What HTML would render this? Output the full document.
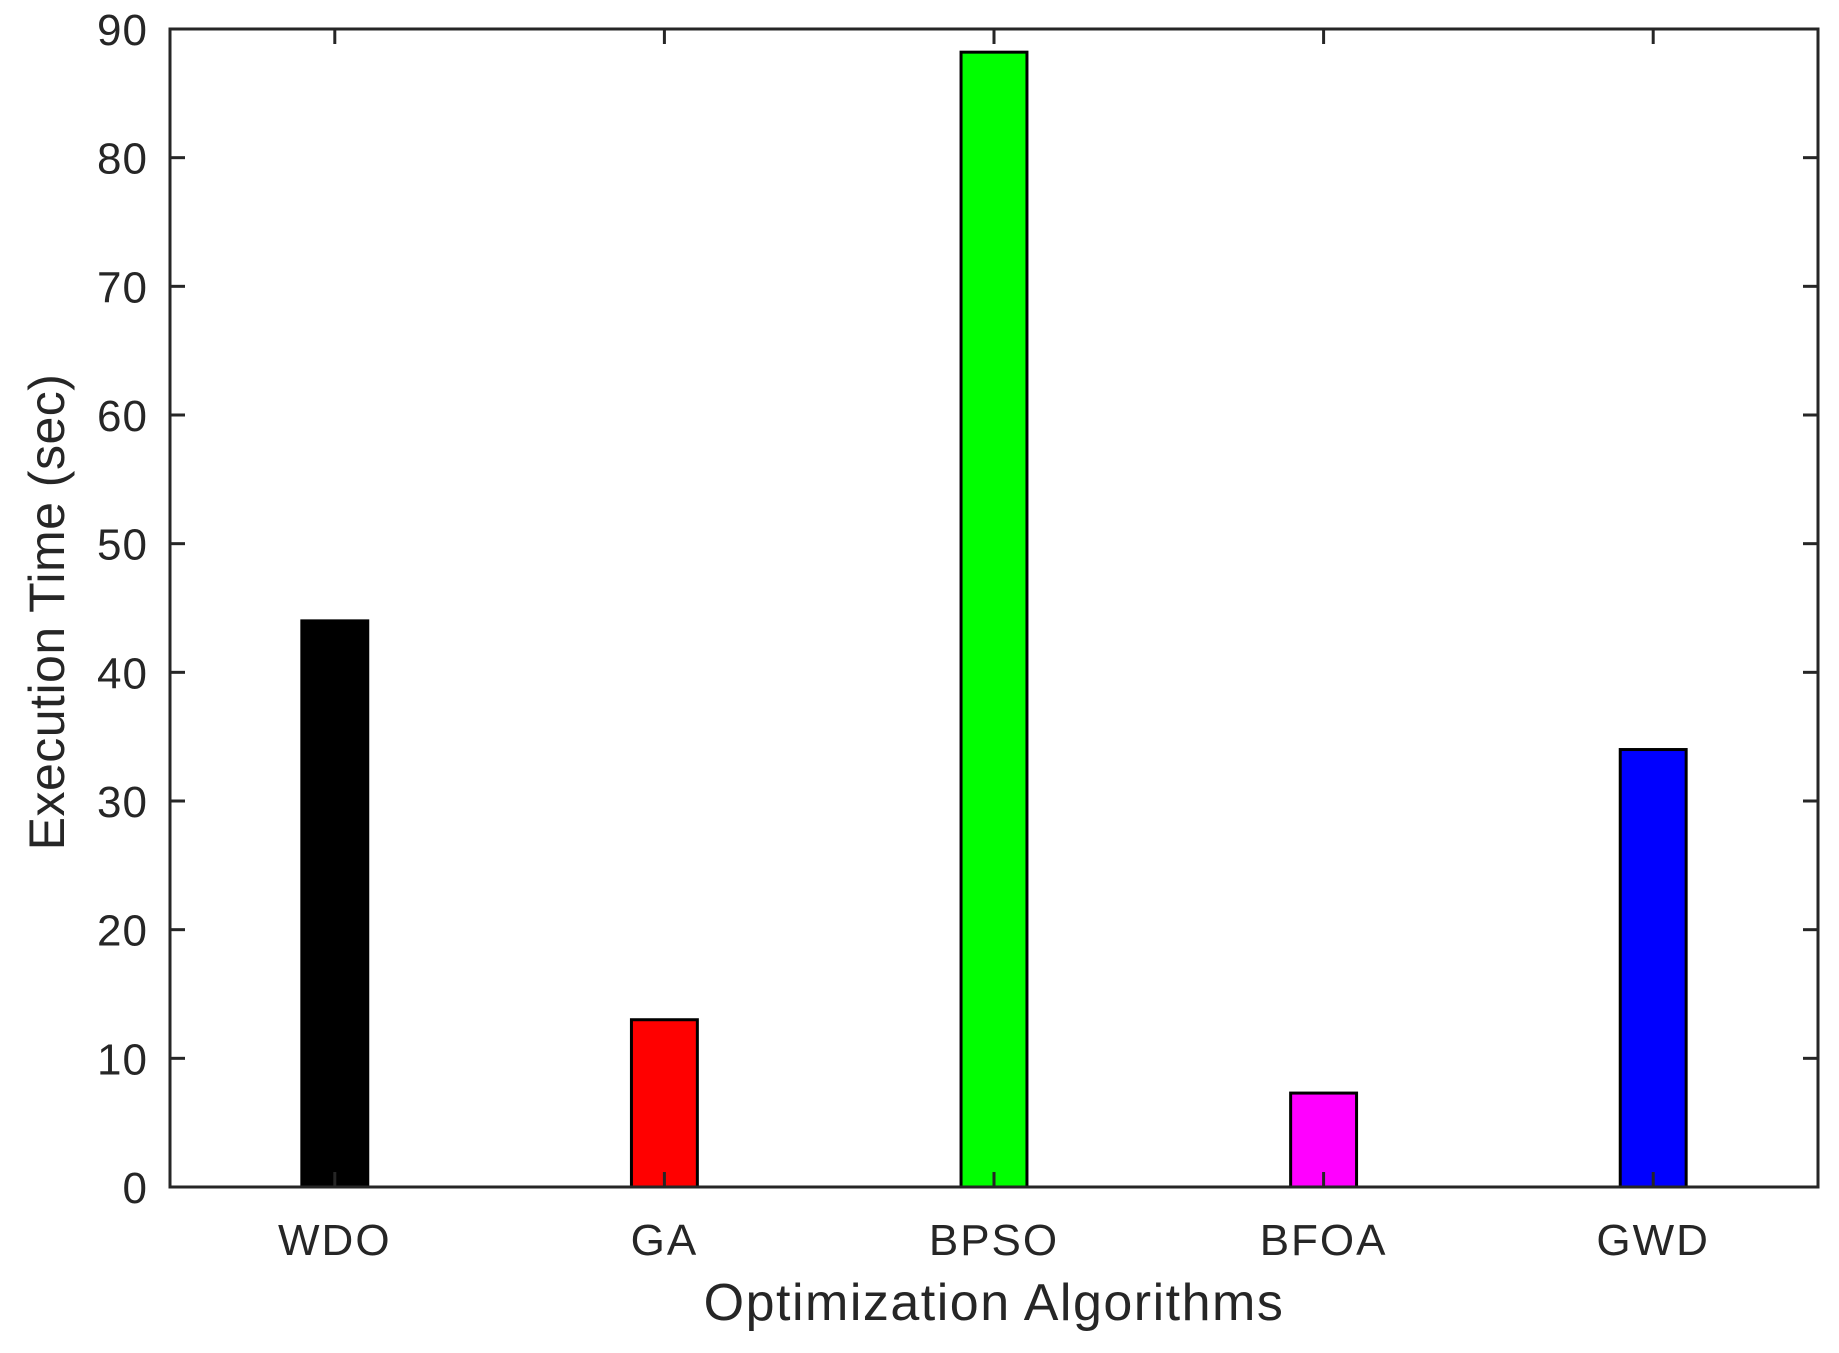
<!DOCTYPE html>
<html><head><meta charset="utf-8"><style>
html,body{margin:0;padding:0;background:#fff;}
svg{display:block;}
text{font-family:"Liberation Sans",sans-serif;fill:#262626;}
</style></head><body>
<svg id="chart" width="1839" height="1353" viewBox="0 0 1839 1353" xmlns="http://www.w3.org/2000/svg"></svg>
<script>
const categories = ["WDO","GA","BPSO","BFOA","GWD"];
const values = [44.0, 13.0, 88.2, 7.3, 34.0];
const colors = ["#000000","#ff0000","#00ff00","#ff00ff","#0000ff"];
const yTicks = [0,10,20,30,40,50,60,70,80,90];

const L=170, R=1818, T=29, B=1187;
const yMax=90;
const NS="http://www.w3.org/2000/svg";
const svg=document.getElementById('chart');
function y(v){return B-(v/yMax)*(B-T);}
function x(i){return L+(i+0.5)*(R-L)/categories.length;}
const bw=0.2*(R-L)/categories.length;
function mk(tag,attrs){const e=document.createElementNS(NS,tag);for(const k in attrs)e.setAttribute(k,attrs[k]);svg.appendChild(e);return e;}

values.forEach((v,i)=>{
  const r=mk('rect',{x:x(i)-bw/2,y:y(v),width:bw,height:y(0)-y(v),fill:colors[i],stroke:'#000','stroke-width':3});
  
  
});

const box=mk('rect',{x:L,y:T,width:R-L,height:B-T,fill:'none',stroke:'#262626','stroke-width':3});



yTicks.forEach(v=>{
  const yy=y(v);
  if(v>0&&v<yMax){
    const t1=mk('line',{x1:L,x2:L+15,y1:yy,y2:yy,stroke:'#262626','stroke-width':3});
    
    
    const t2=mk('line',{x1:R,x2:R-15,y1:yy,y2:yy,stroke:'#262626','stroke-width':3});
    
    
  }
  const lb=mk('text',{x:L-22,y:yy+16,'text-anchor':'end','font-size':44,'letter-spacing':1});
  lb.textContent=v;
  
  
});

categories.forEach((c,i)=>{
  const xx=x(i);
  const t1=mk('line',{x1:xx,x2:xx,y1:B,y2:B-15,stroke:'#262626','stroke-width':3});
  
  
  const t2=mk('line',{x1:xx,x2:xx,y1:T,y2:T+15,stroke:'#262626','stroke-width':3});
  
  
  const lb=mk('text',{x:xx,y:B+68,'text-anchor':'middle','font-size':44,'letter-spacing':2});
  lb.textContent=c;
  
  
});

const xt=mk('text',{x:(L+R)/2,y:1320,'text-anchor':'middle','font-size':52,'letter-spacing':1.5});
xt.textContent='Optimization Algorithms';



const yt=mk('text',{x:0,y:0,'text-anchor':'middle','font-size':50,'letter-spacing':0.5,transform:'translate(64,612) rotate(-90)'});
yt.textContent='Execution Time (sec)';


</script>
</body></html>
